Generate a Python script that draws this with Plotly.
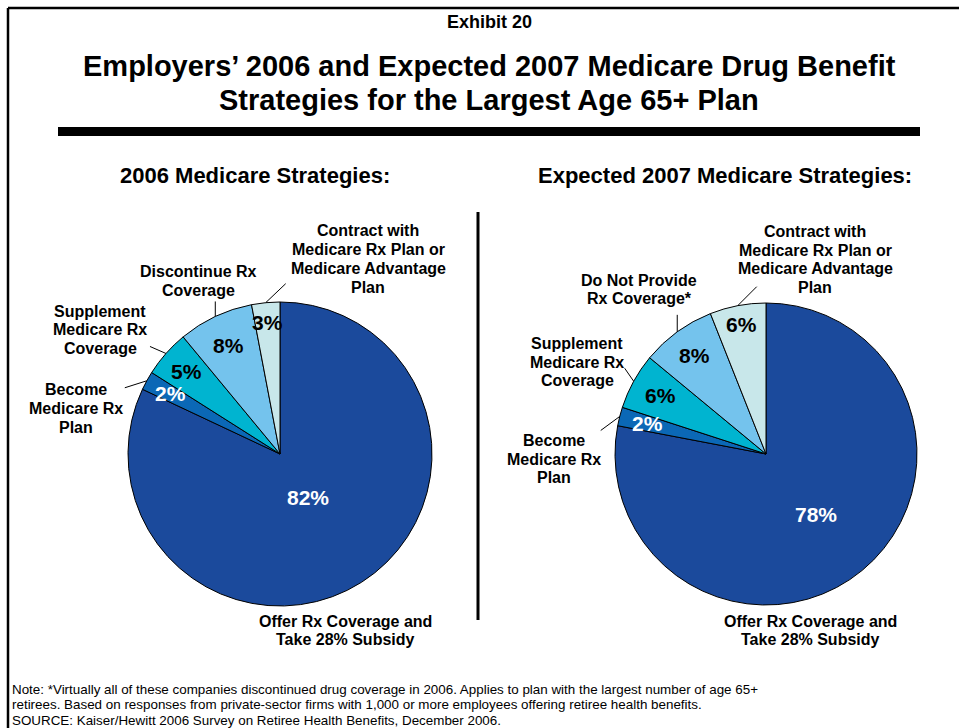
import math
import plotly.graph_objects as go

W, H = 959, 728

# ---- data ----
labels_2006 = ["Offer Rx Coverage and<br>Take 28% Subsidy",
               "Become<br>Medicare Rx<br>Plan",
               "Supplement<br>Medicare Rx<br>Coverage",
               "Discontinue Rx<br>Coverage",
               "Contract with<br>Medicare Rx Plan or<br>Medicare Advantage<br>Plan"]
values_2006 = [82, 2, 5, 8, 3]

labels_2007 = ["Offer Rx Coverage and<br>Take 28% Subsidy",
               "Become<br>Medicare Rx<br>Plan",
               "Supplement<br>Medicare Rx<br>Coverage",
               "Do Not Provide<br>Rx Coverage*",
               "Contract with<br>Medicare Rx Plan or<br>Medicare Advantage<br>Plan"]
values_2007 = [78, 2, 6, 8, 6]

slice_colors = ["#1B4A9C", "#0B68B6", "#00B4D0", "#74C3ED", "#C8E7EA"]
pct_colors = ["white", "white", "black", "black", "black"]

FONT = "Arial, 'Liberation Sans', sans-serif"


def px(x):
    return x / W


def py(y):
    return 1 - y / H


def text_block(text, x, y, size, spacing, bold=True, anchor="center"):
    """Place a multi-line text block centred vertically on y, one annotation per line."""
    lines = text.split("<br>")
    n = len(lines)
    out = []
    for k, line in enumerate(lines):
        yy = y + (k - (n - 1) / 2) * spacing
        out.append(dict(
            x=px(x), y=py(yy), xref="paper", yref="paper",
            text=f"<b>{line}</b>" if bold else line, showarrow=False,
            xanchor=anchor, yanchor="middle",
            font=dict(family=FONT, size=size, color="black")))
    return out


# pie geometry in pixels: centre x, centre y, radius
pies = [
    dict(values=values_2006, labels=labels_2006, cx=280, cy=454, r=152,
         pct_r=[0.34, 0.82, 0.82, 0.79, 0.87],
         lab_pos=[(345, 630.5), (76, 408.5), (100, 330), (198, 281), (368, 259)],
         lead=[None, (-22, 7), (-16, -7), (0, -15), (20, -19)]),
    dict(values=values_2007, labels=labels_2007, cx=766, cy=454, r=151,
         pct_r=[0.52, 0.81, 0.80, 0.81, 0.87],
         lab_pos=[(810, 630.5), (554, 459), (577, 362), (639, 289.5), (815, 259.5)],
         lead=[None, (-19, 14), (-9, -13), (0, -17), (19, -19)]),
]

fig = go.Figure()
annotations = []
shapes = []

for p in pies:
    cx, cy, r = p["cx"], p["cy"], p["r"]
    fig.add_trace(go.Pie(
        values=p["values"], labels=[l.replace("<br>", " ") for l in p["labels"]],
        sort=False, direction="clockwise", rotation=0,
        marker=dict(colors=slice_colors, line=dict(color="black", width=1)),
        textinfo="none", hoverinfo="skip", showlegend=False,
        domain=dict(x=[px(cx - r), px(cx + r)], y=[py(cy + r), py(cy - r)]),
    ))
    total = sum(p["values"])
    cum = 0
    for i, v in enumerate(p["values"]):
        mid = (cum + v / 2) / total * 2 * math.pi
        cum += v
        sx, sy = math.sin(mid), -math.cos(mid)
        # percentage label inside slice
        rr = p["pct_r"][i] * r
        annotations.append(dict(
            x=px(cx + sx * rr), y=py(cy + sy * rr), xref="paper", yref="paper",
            text=f"<b>{v}%</b>", showarrow=False, xanchor="center", yanchor="middle",
            font=dict(family=FONT, size=21, color=pct_colors[i])))
        # category label
        lx, ly = p["lab_pos"][i]
        annotations += text_block(p["labels"][i], lx, ly, 16, 18.8)
        # leader line from slice edge
        if p["lead"][i] is not None:
            ex, ey = cx + sx * r, cy + sy * r
            dx, dy = p["lead"][i]
            shapes.append(dict(type="line", xref="paper", yref="paper",
                               x0=px(ex), y0=py(ey), x1=px(ex + dx), y1=py(ey + dy),
                               line=dict(color="black", width=1)))

# headings
annotations += text_block("Exhibit 20", 489, 22, 18, 0)
annotations += text_block("Employers’ 2006 and Expected 2007 Medicare Drug Benefit<br>"
                          "Strategies for the Largest Age 65+ Plan", 489, 83, 29, 34)
annotations += text_block("2006 Medicare Strategies:", 255, 175, 22, 0)
annotations += text_block("Expected 2007 Medicare Strategies:", 725, 175, 22, 0)

footer = ("Note: *Virtually all of these companies discontinued drug coverage in 2006. "
          "Applies to plan with the largest number of age 65+<br>"
          "retirees. Based on responses from private-sector firms with 1,000 or more "
          "employees offering retiree health benefits.<br>"
          "SOURCE: Kaiser/Hewitt 2006 Survey on Retiree Health Benefits, December 2006.")
annotations += text_block(footer, 10, 704.5, 13.4, 15.5, bold=False, anchor="left")

# frame, title rule and divider
shapes += [
    dict(type="line", xref="paper", yref="paper", x0=px(8), y0=py(8), x1=px(1000), y1=py(8),
         line=dict(color="black", width=2.5)),
    dict(type="line", xref="paper", yref="paper", x0=px(8), y0=py(8), x1=px(8), y1=py(760),
         line=dict(color="black", width=2.5)),
    dict(type="rect", xref="paper", yref="paper", x0=px(58), y0=py(127), x1=px(920), y1=py(136),
         fillcolor="black", line=dict(width=0)),
    dict(type="line", xref="paper", yref="paper", x0=px(478), y0=py(212), x1=px(478), y1=py(620),
         line=dict(color="black", width=3)),
]

fig.update_layout(
    width=W, height=H, margin=dict(l=0, r=0, t=0, b=0),
    paper_bgcolor="white", plot_bgcolor="white",
    annotations=annotations, shapes=shapes,
)
fig.write_html("out.html")
